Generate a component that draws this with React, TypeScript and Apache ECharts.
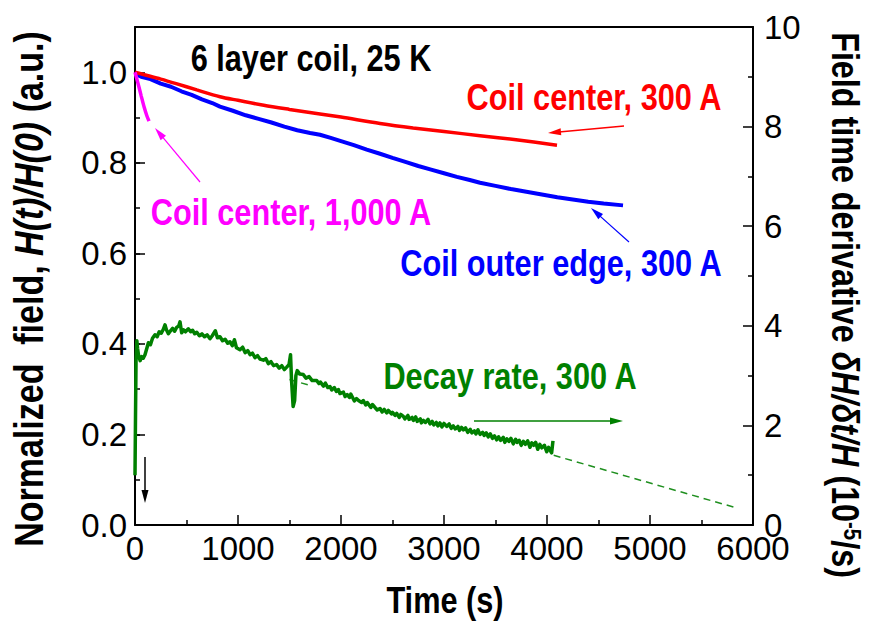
import React, { useEffect, useRef } from 'react';
import * as echarts from 'echarts';

const FONT = "'Liberation Sans', Arial, sans-serif";
const NARROW = 0.83;

// Time (s) / normalized field H(t)/H(0)
const redPoints: [number, number][] = [
  [0, 1.0], [100, 0.994], [250, 0.985], [400, 0.975], [600, 0.961], [825, 0.946], [1000, 0.938],
  [1250, 0.927], [1500, 0.918], [1796, 0.908], [2000, 0.901], [2379, 0.887], [2700, 0.877],
  [3000, 0.869], [3350, 0.86], [3700, 0.851], [4097, 0.839],
];

const bluePoints: [number, number][] = [
  [0, 0.997], [60, 0.99], [150, 0.985], [250, 0.975], [350, 0.968], [450, 0.958], [550, 0.95],
  [650, 0.94], [750, 0.932], [825, 0.924], [950, 0.915], [1075, 0.905], [1200, 0.897],
  [1325, 0.889], [1450, 0.88], [1575, 0.872], [1700, 0.866], [1796, 0.862], [1900, 0.855],
  [2000, 0.848], [2125, 0.839], [2250, 0.829], [2379, 0.82], [2500, 0.811], [2625, 0.802],
  [2750, 0.793], [2875, 0.785], [3000, 0.777], [3125, 0.769], [3250, 0.762], [3350, 0.756],
  [3500, 0.749], [3650, 0.742], [3800, 0.736], [3950, 0.73], [4100, 0.724], [4250, 0.719],
  [4400, 0.714], [4550, 0.71], [4738, 0.706],
];

const magentaPoints: [number, number][] = [
  [0, 1.0], [30, 0.975], [60, 0.948], [90, 0.922], [115, 0.904], [136, 0.892],
];

// Time (s) / decay rate (1e-5 /s)
const greenPoints: [number, number][] = [
  [0, 1.0], [5, 2.2], [10, 3.3], [18, 3.7], [25, 3.55], [35, 3.4], [50, 3.3], [65, 3.38], [80, 3.35],
  [97, 3.42], [115, 3.55], [130, 3.66], [150, 3.62], [170, 3.75], [194, 3.82], [215, 3.78], [235, 3.88],
  [255, 3.85], [275, 3.93], [291, 4.02], [305, 3.92], [324, 3.84], [345, 3.9], [365, 3.95], [385, 3.89],
  [405, 3.97], [425, 4.0], [437, 4.08], [453, 3.86], [470, 3.92], [490, 3.88], [518, 3.94], [540, 3.88],
  [560, 3.91], [580, 3.84], [600, 3.87], [625, 3.8], [650, 3.84], [675, 3.78], [700, 3.82], [728, 3.74],
  [750, 3.8], [780, 3.9], [800, 3.76], [825, 3.78], [850, 3.7], [875, 3.73], [900, 3.65], [922, 3.68],
  [945, 3.6], [965, 3.72], [985, 3.56], [1019, 3.52], [1045, 3.57], [1070, 3.46], [1095, 3.5],
  [1117, 3.42], [1140, 3.45], [1165, 3.36], [1190, 3.4], [1215, 3.33], [1246, 3.31], [1270, 3.34],
  [1295, 3.24], [1320, 3.28], [1345, 3.2], [1375, 3.22], [1400, 3.15], [1425, 3.2], [1450, 3.12],
  [1473, 3.17], [1495, 3.22], [1510, 3.42], [1520, 2.9], [1535, 2.38], [1550, 2.5], [1562, 3.0],
  [1575, 3.1], [1600, 3.03], [1634, 3.02], [1660, 2.95], [1690, 2.98], [1720, 2.9], [1764, 2.9],
  [1785, 2.84], [1800, 2.87], [1830, 2.79], [1848, 2.85], [1872, 2.76], [1893, 2.78], [1910, 2.71],
  [1935, 2.76], [1955, 2.68], [1975, 2.72], [1990, 2.64], [2023, 2.67], [2040, 2.58], [2060, 2.62],
  [2082, 2.56], [2095, 2.63], [2130, 2.49], [2150, 2.54], [2170, 2.5], [2200, 2.46], [2217, 2.5],
  [2240, 2.41], [2255, 2.46], [2290, 2.36], [2305, 2.42], [2330, 2.36], [2352, 2.31], [2379, 2.34],
  [2400, 2.27], [2420, 2.32], [2445, 2.25], [2460, 2.3], [2490, 2.23], [2500, 2.26], [2525, 2.2],
  [2541, 2.24], [2565, 2.16], [2580, 2.22], [2605, 2.18], [2620, 2.13], [2650, 2.2], [2660, 2.12],
  [2690, 2.16], [2702, 2.1], [2725, 2.17], [2740, 2.08], [2770, 2.13], [2780, 2.05], [2800, 2.1],
  [2820, 2.06], [2845, 2.12], [2864, 2.03], [2885, 2.08], [2900, 2.01], [2925, 2.06], [2940, 1.99],
  [2960, 2.05], [2980, 1.97], [3000, 2.04], [3026, 1.98], [3050, 2.03], [3070, 1.94], [3090, 1.99],
  [3110, 1.93], [3135, 1.98], [3150, 1.9], [3170, 1.96], [3188, 1.91], [3210, 1.95], [3230, 1.86],
  [3255, 1.92], [3270, 1.85], [3295, 1.89], [3310, 1.83], [3330, 1.91], [3350, 1.82], [3375, 1.86],
  [3390, 1.8], [3410, 1.85], [3430, 1.77], [3450, 1.83], [3470, 1.74], [3490, 1.79], [3512, 1.71],
  [3530, 1.77], [3550, 1.7], [3575, 1.76], [3590, 1.66], [3610, 1.73], [3630, 1.68], [3650, 1.74],
  [3673, 1.63], [3695, 1.72], [3710, 1.66], [3730, 1.7], [3750, 1.6], [3770, 1.68], [3790, 1.62],
  [3812, 1.69], [3835, 1.56], [3852, 1.65], [3870, 1.6], [3890, 1.66], [3910, 1.52], [3930, 1.62],
  [3950, 1.55], [3975, 1.6], [3997, 1.47], [4015, 1.56], [4030, 1.5], [4045, 1.45], [4058, 1.69],
];

const fitDipPoints: [number, number][] = [[1500, 2.92], [1720, 2.79]];
const fitTailPoints: [number, number][] = [[4065, 1.4], [5845, 0.34]];

const xTickLabels = ['0', '1000', '2000', '3000', '4000', '5000', '6000'];
const leftTickLabels = ['0.0', '0.2', '0.4', '0.6', '0.8', '1.0'];
const rightTickLabels = ['0', '2', '4', '6', '8', '10'];

function arrow(x1: number, y1: number, x2: number, y2: number, color: string, w = 1.5, hl = 13, hw = 7) {
  const dx = x2 - x1, dy = y2 - y1;
  const len = Math.hypot(dx, dy);
  const ux = dx / len, uy = dy / len;
  const bx = x2 - ux * hl, by = y2 - uy * hl;
  const px = -uy, py = ux;
  return [
    { type: 'line', silent: true, shape: { x1, y1, x2: bx + ux * 2, y2: by + uy * 2 }, style: { stroke: color, lineWidth: w } },
    {
      type: 'polygon', silent: true,
      shape: { points: [[x2, y2], [bx + (px * hw) / 2, by + (py * hw) / 2], [bx - (px * hw) / 2, by - (py * hw) / 2]] },
      style: { fill: color },
    },
  ];
}

function label(text: string, x: number, y: number, color: string, size = 37) {
  return {
    type: 'text', silent: true, x, y, scaleX: NARROW,
    style: { text, fill: color, fontSize: size, fontWeight: 'bold', fontFamily: FONT, align: 'center', verticalAlign: 'middle' },
  };
}

export default function App() {
  const ref = useRef<HTMLDivElement>(null);
  useEffect(() => {
    if (!ref.current) return;
    const chart = echarts.init(ref.current, null, { renderer: 'svg' });
    const axisLine = { show: true, onZero: false, lineStyle: { color: '#000', width: 2 } };
    const tickStyle = { color: '#000', width: 1.5 };
    const labelStyle = { color: '#000', fontSize: 33, fontFamily: FONT };
    const option: any = {
      animation: false,
      backgroundColor: '#fff',
      grid: { left: 135, right: 128, top: 27, bottom: 98, containLabel: false },
      xAxis: [
        {
          type: 'value', min: 0, max: 6000, interval: 1000, position: 'bottom',
          axisLine,
          axisTick: { show: true, inside: true, length: 10, lineStyle: tickStyle },
          minorTick: { show: true, splitNumber: 2, length: 5, lineStyle: tickStyle },
          axisLabel: { ...labelStyle, margin: 7, formatter: (v: number) => xTickLabels[Math.round(v / 1000)] ?? '' },
          splitLine: { show: false },
        },
        {
          type: 'value', min: 0, max: 6000, position: 'top',
          axisLine, axisTick: { show: false }, axisLabel: { show: false }, splitLine: { show: false },
        },
      ],
      yAxis: [
        {
          type: 'value', min: 0, max: 1.1, interval: 0.2, position: 'left',
          axisLine,
          axisTick: { show: true, inside: true, length: 10, lineStyle: tickStyle },
          axisLabel: {
            ...labelStyle, margin: 8,
            formatter: (v: number) => { const i = Math.round(v / 0.2); return Math.abs(v - i * 0.2) < 1e-6 ? leftTickLabels[i] ?? '' : ''; },
          },
          splitLine: { show: false },
        },
        {
          type: 'value', min: 0, max: 1.1, interval: 0.1, position: 'left',
          axisLine: { show: false },
          axisTick: { show: true, inside: true, length: 5, lineStyle: tickStyle },
          axisLabel: { show: false }, splitLine: { show: false },
        },
        {
          type: 'value', min: 0, max: 10, interval: 2, position: 'right',
          axisLine,
          axisTick: { show: true, inside: true, length: 10, lineStyle: tickStyle },
          minorTick: { show: true, splitNumber: 2, length: 5, lineStyle: tickStyle },
          axisLabel: { ...labelStyle, margin: 11, formatter: (v: number) => rightTickLabels[Math.round(v / 2)] ?? '' },
          splitLine: { show: false },
        },
      ],
      series: [
        { type: 'line', yAxisIndex: 2, data: fitDipPoints, showSymbol: false, lineStyle: { color: '#1f8f1f', width: 1.5, type: [7, 5] } },
        { type: 'line', yAxisIndex: 2, data: fitTailPoints, showSymbol: false, lineStyle: { color: '#1f8f1f', width: 1.5, type: [7, 5] } },
        { type: 'line', yAxisIndex: 2, data: greenPoints, showSymbol: false, lineStyle: { color: '#008000', width: 3.5, join: 'round' } },
        { type: 'line', yAxisIndex: 0, data: bluePoints, showSymbol: false, lineStyle: { color: '#0000ff', width: 4 } },
        { type: 'line', yAxisIndex: 0, data: redPoints, showSymbol: false, smooth: 0.3, lineStyle: { color: '#ff0000', width: 3.5 } },
        { type: 'line', yAxisIndex: 0, data: magentaPoints, showSymbol: false, smooth: 0.3, lineStyle: { color: '#ff00ff', width: 3.5 } },
      ],
      graphic: [
        label('6 layer coil, 25 K', 311, 58, '#000'),
        label('Coil center, 300 A', 594, 97, '#ff0000'),
        label('Coil center, 1,000 A', 291, 212, '#ff00ff'),
        label('Coil outer edge, 300 A', 561, 263, '#0000ff'),
        label('Decay rate, 300 A', 510, 376, '#008000'),
        label('Time (s)', 445, 600, '#000'),
        ...arrow(624, 126, 548, 133, '#ff0000'),
        ...arrow(200, 182, 155, 128, '#ff00ff', 1.2),
        ...arrow(629, 242, 591, 208, '#0000ff', 1.2),
        ...arrow(474, 421, 623, 421, '#008000', 1.5),
        ...arrow(145, 457, 145, 503, '#000', 1.5),
        {
          type: 'text', silent: true, x: 29, y: 289, rotation: Math.PI / 2, scaleX: 0.85,
          style: {
            text: '{b|Normalized  field, }{i|H(t)/H(0)}{b| (a.u.)}',
            align: 'center', verticalAlign: 'middle', fill: '#000',
            rich: {
              b: { fontSize: 40, fontWeight: 'bold', fontFamily: FONT, fill: '#000' },
              i: { fontSize: 40, fontWeight: 'bold', fontStyle: 'italic', fontFamily: FONT, fill: '#000' },
            },
          },
        },
        {
          type: 'text', silent: true, x: 845, y: 305, rotation: -Math.PI / 2, scaleX: 0.85,
          style: {
            text: '{b|Field time derivative }{i|δH/δt/H}{b| (10}{s|-5}{b|/s)}',
            align: 'center', verticalAlign: 'middle', fill: '#000',
            rich: {
              b: { fontSize: 38, fontWeight: 'bold', fontFamily: FONT, fill: '#000' },
              i: { fontSize: 38, fontWeight: 'bold', fontStyle: 'italic', fontFamily: FONT, fill: '#000' },
              s: { fontSize: 24, fontWeight: 'bold', fontFamily: FONT, fill: '#000', verticalAlign: 'top', padding: [0, 0, 14, 0] },
            },
          },
        },
      ],
    };
    chart.setOption(option);
    return () => chart.dispose();
  }, []);
  return <div ref={ref} style={{ position: 'fixed', left: 0, top: 0, width: 881, height: 623 }} />;
}
